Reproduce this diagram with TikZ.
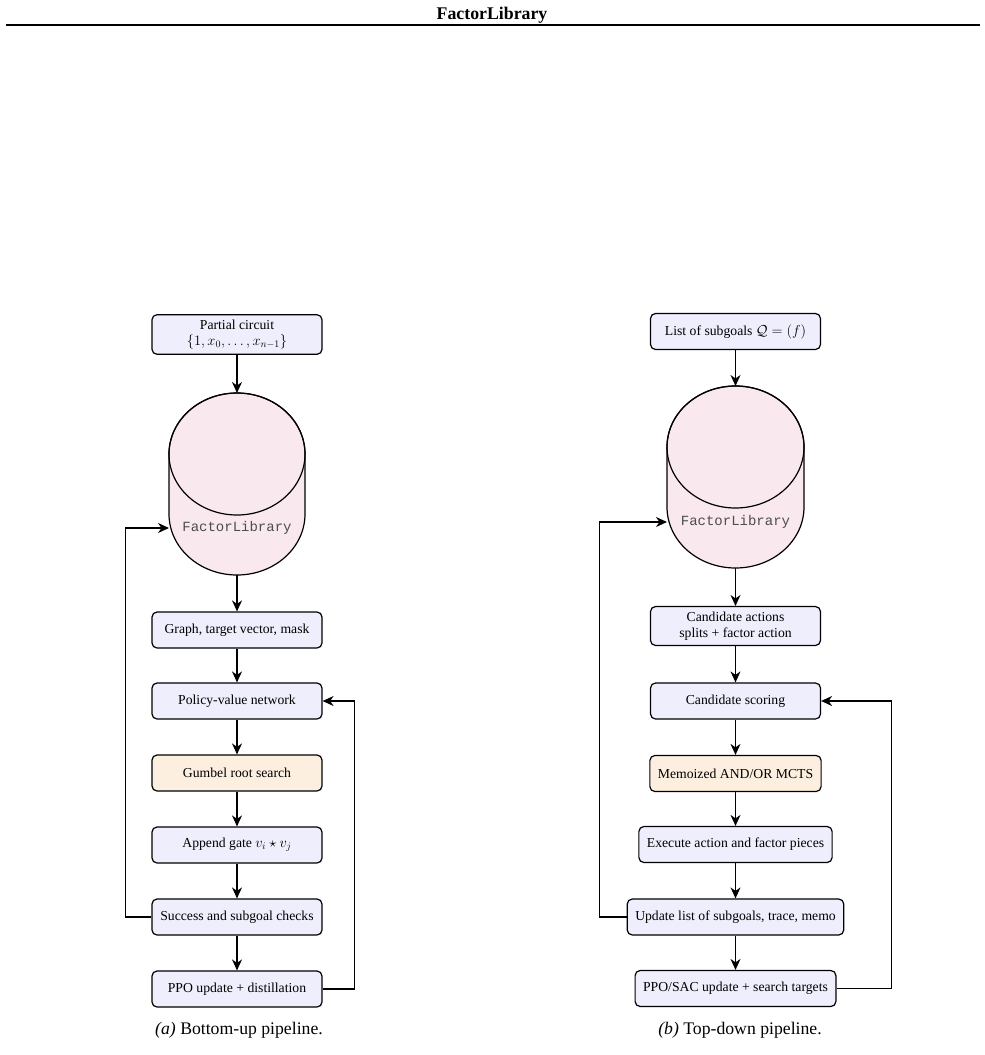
\documentclass[tikz,border=0pt]{standalone}
\usepackage[no-math]{fontspec}
\setmainfont{Liberation Serif}
\setmonofont{Liberation Mono}
\usetikzlibrary{arrows.meta}

\definecolor{stagefill}{RGB}{238,238,252}
\definecolor{searchfill}{RGB}{253,239,224}
\definecolor{libfill}{RGB}{249,233,239}

\tikzset{
	stage/.style={draw, line width=1.2pt, rounded corners=5pt, fill=stagefill,
		minimum width=170pt, minimum height=36pt, inner xsep=8pt, inner ysep=5pt,
		align=center, font=\fontsize{13.7}{16.5}\selectfont},
	searchstage/.style={stage, fill=searchfill},
	flow/.style={-{Stealth[length=11pt,width=10pt,inset=3.5pt]}, line width=1.2pt},
	libbody/.style={draw, line width=1.2pt, fill=libfill},
	libname/.style={font=\fontsize{14}{16}\ttfamily, text=black!70},
	caption/.style={anchor=base, font=\fontsize{17.7}{21}\selectfont},
}

\begin{document}
\begin{tikzpicture}[x=1pt, y=-1pt]
		\useasboundingbox (0,0) rectangle (985,1055);

		% Running head
		\node[anchor=base, font=\fontsize{17.8}{20}\selectfont\bfseries] (head) at (492,19) {FactorLibrary};
		\draw[line width=2.2pt] (6,25) -- (980,25);

		% Bottom-up
		\node[stage] (pc) at (237, 334.5) {Partial circuit\\$\{1, x_0, \ldots, x_{n-1}\}$};

		\filldraw[libbody] (169,454) -- (169,514) arc[start angle=180, end angle=0, x radius=68, y radius=61]
			-- (305,454) arc[start angle=0, end angle=-180, x radius=68, y radius=61] -- cycle;
		\draw[line width=1.2pt] (237,454) ellipse[x radius=68, y radius=61];
		\node[libname] (libA) at (237,528) {FactorLibrary};
		\coordinate (libAtop) at (237,393);
		\coordinate (libAbot) at (237,575);
		\coordinate (libAin) at (169,528);

		\node[stage] (graph) at (237, 630) {Graph, target vector, mask};
		\node[stage] (policy) at (237, 701) {Policy-value network};
		\node[searchstage] (gumbel) at (237, 773) {Gumbel root search};
		\node[stage] (append) at (237, 845) {Append gate $v_i \star v_j$};
		\node[stage] (check) at (237, 917) {Success and subgoal checks};
		\node[stage] (ppo) at (237, 989) {PPO update + distillation};

		\draw[flow] (pc) -- (libAtop);
		\draw[flow] (libAbot) -- (graph);
		\draw[flow] (graph) -- (policy);
		\draw[flow] (policy) -- (gumbel);
		\draw[flow] (gumbel) -- (append);
		\draw[flow] (append) -- (check);
		\draw[flow] (check) -- (ppo);
		\draw[flow] (check.west) -- ++(-26,0) |- (libAin);
		\draw[flow] (ppo.east) -- ++(32,0) |- (policy.east);

		\node[caption] (capA) at (239,1034) {\textit{(a)} Bottom-up pipeline.};

		% Top-down
		\node[stage] (goals) at (735.5, 331.5) {List of subgoals $\mathcal{Q} = (f)$};

		\filldraw[libbody] (667,447) -- (667,507) arc[start angle=180, end angle=0, x radius=68.5, y radius=61]
			-- (804,447) arc[start angle=0, end angle=-180, x radius=68.5, y radius=61] -- cycle;
		\draw[line width=1.2pt] (735.5,447) ellipse[x radius=68.5, y radius=61];
		\node[libname] (libB) at (735.5,522) {FactorLibrary};
		\coordinate (libBtop) at (735.5,386);
		\coordinate (libBbot) at (735.5,568);
		\coordinate (libBin) at (667,522);

		\node[stage] (cand) at (735.5, 626) {Candidate actions\\splits + factor action};
		\node[stage] (score) at (735.5, 701) {Candidate scoring};
		\node[searchstage] (mcts) at (735.5, 773.5) {Memoized AND/OR MCTS};
		\node[stage] (exec) at (735.5, 844.5) {Execute action and factor pieces};
		\node[stage] (update) at (735.5, 917) {Update list of subgoals, trace, memo};
		\node[stage] (train) at (735.5, 988.5) {PPO/SAC update + search targets};

		\draw[flow] (goals) -- (libBtop);
		\draw[flow] (libBbot) -- (cand);
		\draw[flow] (cand) -- (score);
		\draw[flow] (score) -- (mcts);
		\draw[flow] (mcts) -- (exec);
		\draw[flow] (exec) -- (update);
		\draw[flow] (update) -- (train);
		\draw[flow] (update.west) -- ++(-27,0) |- (libBin);
		\draw[flow] (train.east) -- ++(55,0) |- (score.east);

		\node[caption] (capB) at (740,1034) {\textit{(b)} Top-down pipeline.};
	\end{tikzpicture}
\end{document}
